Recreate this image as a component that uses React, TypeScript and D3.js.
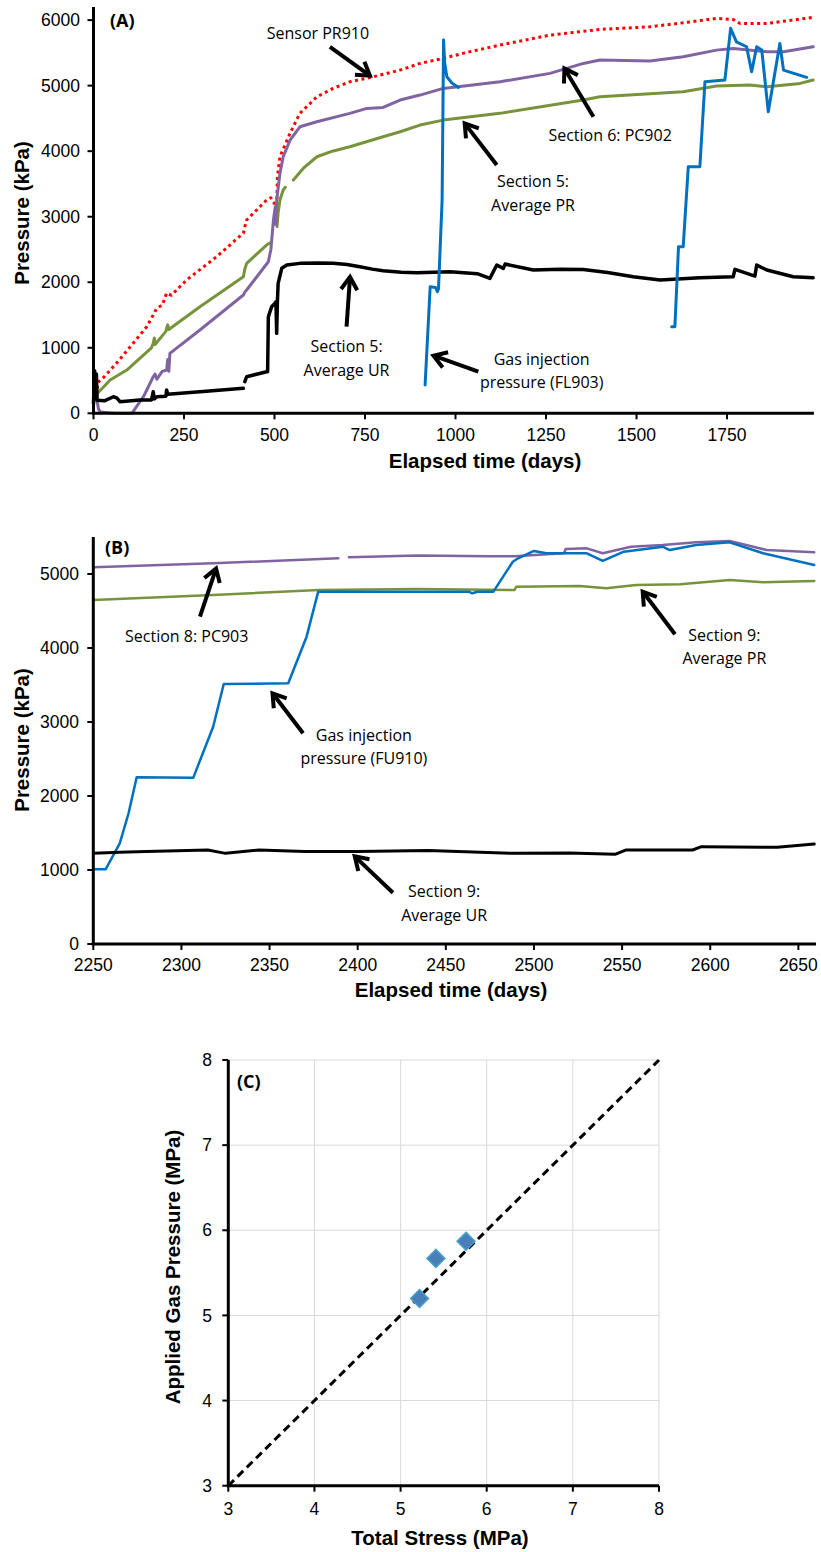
import React, { useEffect } from 'react';
import * as d3 from 'd3';

type Pt = [number, number] | null;

// ---------- Panel A data: [elapsed day, pressure kPa] ----------
const aPR910: Pt[] = [
  [0, 100], [4, 380], [8, 320], [14, 480], [30, 560], [64, 767], [110, 1072], [147, 1321], [165, 1500],
  [175, 1606], [190, 1650], [202, 1835], [215, 1800], [257, 2034], [340, 2389], [414, 2750], [418, 2847],
  [423, 2949], [478, 3254], [490, 3290], [500, 3200], [506, 3152], [508, 3600], [515, 3915], [543, 4274],
  [570, 4577], [617, 4830], [662, 4958], [708, 5059], [773, 5135], [847, 5237], [902, 5339], [966, 5416],
  [1031, 5507], [1123, 5619], [1261, 5771], [1399, 5858], [1537, 5898], [1629, 5959], [1721, 6026],
  [1767, 6010], [1786, 5949], [1860, 5949], [1952, 6015], [1988, 6041],
];
const aPC902: Pt[] = [
  [0, 150], [3, 320], [8, 250], [14, 60], [20, 20], [40, 10], [60, 0], [106, 0], [138, 253], [160, 500],
  [165, 558], [170, 600], [175, 520], [190, 640], [202, 660], [205, 820], [208, 640], [211, 915], [294, 1271],
  [414, 1805], [418, 1850], [423, 1881], [483, 2313], [490, 2500], [497, 2949], [502, 3150], [504, 2880],
  [506, 3254], [515, 3661], [524, 3915], [543, 4169], [570, 4372], [617, 4449], [708, 4577], [755, 4653],
  [800, 4668], [847, 4780], [902, 4856], [966, 4958], [1123, 5059], [1261, 5187], [1353, 5339], [1399, 5390],
  [1537, 5375], [1629, 5440], [1721, 5542], [1767, 5568], [1860, 5517], [1906, 5517], [1988, 5593],
];
const aSec5PR: Pt[] = [
  [0, 200], [2, 253], [46, 508], [92, 660], [160, 1000], [165, 1067], [168, 1150], [170, 1050], [200, 1250],
  [202, 1297], [205, 1350], [208, 1280], [294, 1626], [414, 2084], [418, 2200], [423, 2288], [478, 2567],
  [488, 2603], null, [505, 2900], [507, 2850], [510, 3055], [515, 3254], [524, 3407], [530, 3450], null,
  [552, 3559], [580, 3740], [617, 3915], [660, 4000], [708, 4067], [800, 4220], [847, 4296], [902, 4398],
  [966, 4474], [1123, 4577], [1353, 4780], [1399, 4830], [1629, 4906], [1721, 4993], [1813, 5008],
  [1860, 4982], [1952, 5034], [1988, 5085],
];
const aSec5UR: Pt[] = [
  [0, 150], [3, 650], [6, 300], [8, 600], [10, 200], [30, 190], [55, 253], [65, 230], [73, 177], [128, 203],
  [160, 203], [165, 330], [168, 220], [175, 253], [200, 260], [202, 355], [205, 290], [294, 330], [414, 381],
  null, [418, 482], [423, 558], [478, 635], [481, 635], [483, 1474], [492, 1626], [501, 1678], [504, 1700],
  [506, 1220], [508, 1700], [510, 1983], [520, 2212], [534, 2262], [570, 2288], [620, 2295], [662, 2290],
  [700, 2272], [736, 2237], [770, 2200], [800, 2176], [850, 2152], [893, 2145], [985, 2161], [1060, 2130],
  [1095, 2059], [1114, 2262], [1132, 2212], [1137, 2277], [1215, 2186], [1290, 2200], [1353, 2196],
  [1420, 2150], [1491, 2084], [1565, 2034], [1675, 2069], [1767, 2084], [1772, 2196], [1827, 2094],
  [1832, 2262], [1860, 2186], [1933, 2084], [1988, 2069],
];
const aFL903: Pt[] = [
  [916, 432], [930, 1931], [945, 1920], [950, 1856], [953, 1900], [963, 3254], [967, 5696], [970, 5350],
  [976, 5135], [990, 5040], [1008, 4973], null,
  [1597, 1321], [1606, 1321], [1616, 2542], [1629, 2542], [1643, 3762], [1675, 3762], [1689, 5059],
  [1744, 5085], [1760, 5874], [1776, 5669], [1804, 5593], [1818, 5211], [1832, 5593], [1846, 5542],
  [1864, 4601], [1896, 5644], [1906, 5237], [1970, 5126],
];
const aXTicks = [0, 250, 500, 750, 1000, 1250, 1500, 1750];
const aYTicks = [0, 1000, 2000, 3000, 4000, 5000, 6000];

// ---------- Panel B data ----------
const bPC903: Pt[] = [
  [2250, 5090], [2318, 5144], [2389, 5212], null, [2395, 5226], [2434, 5250], [2474, 5240], [2489, 5240],
  [2517, 5280], [2518, 5338], [2530, 5347], [2539, 5280], [2555, 5369], [2573, 5392], [2592, 5428],
  [2611, 5446], [2632, 5324], [2659, 5293],
];
const bSec9PR: Pt[] = [
  [2250, 4649], [2318, 4716], [2378, 4784], [2434, 4797], [2489, 4784], [2490, 4829], [2526, 4838],
  [2541, 4806], [2558, 4851], [2583, 4860], [2611, 4919], [2630, 4887], [2659, 4905],
];
const bFU910: Pt[] = [
  [2250, 1009], [2257, 1009], [2265, 1361], [2270, 1766], [2274.6, 2252], [2306.7, 2245], [2318, 2936],
  [2324, 3514], [2360.6, 3523], [2371, 4153], [2377.6, 4761], [2463, 4761], [2465, 4739], [2468, 4761],
  [2477, 4761], [2488, 5166], [2491, 5212], [2500, 5311], [2507, 5280], [2530, 5280], [2539, 5176],
  [2551, 5302], [2573, 5369], [2577, 5324], [2592, 5392], [2611, 5428], [2630, 5280], [2659, 5122],
];
const bSec9UR: Pt[] = [
  [2250, 1225], [2265, 1240], [2280, 1250], [2315, 1270], [2325, 1225], [2344, 1270], [2370, 1250],
  [2400, 1250], [2440, 1262], [2488, 1225], [2520, 1230], [2546, 1212], [2552, 1270], [2590, 1270],
  [2595, 1315], [2638, 1306], [2659, 1351],
];
const bXTicks = [2250, 2300, 2350, 2400, 2450, 2500, 2550, 2600, 2650];
const bYTicks = [0, 1000, 2000, 3000, 4000, 5000];

// ---------- Panel C data (MPa) ----------
const cTotalStress = [5.22, 5.41, 5.76];
const cGasPressure = [5.2, 5.67, 5.87];
const cTicks = [3, 4, 5, 6, 7, 8];

// ---------- Annotations: text lines, text anchor and arrow in data units ----------
type Ann = { lines: string[]; t: [number, number]; from: [number, number]; to: [number, number] };
const aNotes: Ann[] = [
  { lines: ['Sensor PR910'], t: [620, 5802], from: [653, 5593], to: [768, 5135] },
  { lines: ['Section 6: PC902'], t: [1427, 4244], from: [1381, 4525], to: [1298, 5288] },
  { lines: ['Section 5:', 'Average PR'], t: [1214, 3533], from: [1114, 3788], to: [1022, 4448] },
  { lines: ['Section 5:', 'Average UR'], t: [699, 1016], from: [699, 1321], to: [709, 2110] },
  { lines: ['Gas injection', 'pressure (FL903)'], t: [1238, 824], from: [1063, 635], to: [934, 889] },
];
const bNotes: Ann[] = [
  { lines: ['Section 8: PC903'], t: [2303, 4162], from: [2310.5, 4423], to: [2320, 5099] },
  { lines: ['Gas injection', 'pressure (FU910)'], t: [2403.5, 2824], from: [2369, 2847], to: [2351, 3409] },
  { lines: ['Section 9:', 'Average PR'], t: [2608, 4176], from: [2580, 4185], to: [2561, 4784] },
  { lines: ['Section 9:', 'Average UR'], t: [2449, 707], from: [2420, 693], to: [2397.5, 1203] },
];

const TICK_FONT = '"Liberation Sans", Arial, sans-serif';
const NOTE_FONT = '"Open Sans", "Noto Sans", sans-serif';

type Scale = d3.ScaleLinear<number, number>;

function Series({ data, x, y, color, width, dash }: { data: Pt[]; x: Scale; y: Scale; color: string; width: number; dash?: string }) {
  const line = d3
    .line<Pt>()
    .defined((d) => d !== null)
    .x((d) => x((d as [number, number])[0]))
    .y((d) => y((d as [number, number])[1]));
  return (
    <path
      d={line(data) || ''}
      fill="none"
      stroke={color}
      strokeWidth={width}
      strokeDasharray={dash}
      strokeLinejoin="round"
      strokeLinecap={dash ? 'butt' : 'round'}
    />
  );
}

function Arrow({ x1, y1, x2, y2 }: { x1: number; y1: number; x2: number; y2: number }) {
  const ang = Math.atan2(y2 - y1, x2 - x1);
  const L = 15;
  const a = Math.PI / 5.5;
  const tx = x2 - 2 * Math.cos(ang);
  const ty = y2 - 2 * Math.sin(ang);
  const h1 = [tx - L * Math.cos(ang - a), ty - L * Math.sin(ang - a)];
  const h2 = [tx - L * Math.cos(ang + a), ty - L * Math.sin(ang + a)];
  return (
    <g stroke="#000" fill="none" strokeWidth={4}>
      <line x1={x1} y1={y1} x2={tx} y2={ty} />
      <path d={`M${h1[0]},${h1[1]}L${tx},${ty}L${h2[0]},${h2[1]}`} strokeLinejoin="miter" />
    </g>
  );
}

function Notes({ notes, x, y }: { notes: Ann[]; x: Scale; y: Scale }) {
  return (
    <g>
      {notes.map((n, i) => (
        <g key={i}>
          <Arrow x1={x(n.from[0])} y1={y(n.from[1])} x2={x(n.to[0])} y2={y(n.to[1])} />
          {n.lines.map((l, j) => (
            <text
              key={j}
              x={x(n.t[0])}
              y={y(n.t[1]) + j * 23.5}
              dy="0.35em"
              textAnchor="middle"
              fontFamily={NOTE_FONT}
              fontSize={16}
              fill="#000"
            >
              {l}
            </text>
          ))}
        </g>
      ))}
    </g>
  );
}

function Axes({
  x, y, xTicks, yTicks, xLabelY, yLabelX, xTitle, xTitleX, xTitleY, yTitle, yTitleX, yTitleY, fmt,
}: {
  x: Scale; y: Scale; xTicks: number[]; yTicks: number[]; xLabelY: number; yLabelX: number;
  xTitle: string; xTitleX: number; xTitleY: number; yTitle: string; yTitleX: number; yTitleY: number;
  fmt: (v: number) => string;
}) {
  const [x0, x1] = x.range();
  const [y0, y1] = y.range();
  return (
    <g>
      <line x1={x0} x2={x0} y1={y0 + 1.5} y2={y1} stroke="#000" strokeWidth={3} />
      <line x1={x0 - 1.5} x2={x1} y1={y0} y2={y0} stroke="#000" strokeWidth={3} />
      {yTicks.map((t) => (
        <g key={'y' + t}>
          <line x1={x0 - 6} x2={x0} y1={y(t)} y2={y(t)} stroke="#000" strokeWidth={2} />
          <text x={yLabelX} y={y(t)} dy="0.35em" textAnchor="end" fontFamily={TICK_FONT} fontSize={17.5} fill="#000">
            {fmt(t)}
          </text>
        </g>
      ))}
      {xTicks.map((t) => (
        <g key={'x' + t}>
          <line x1={x(t)} x2={x(t)} y1={y0} y2={y0 + 6} stroke="#000" strokeWidth={2} />
          <text x={x(t)} y={xLabelY} textAnchor="middle" fontFamily={TICK_FONT} fontSize={17.5} fill="#000">
            {fmt(t)}
          </text>
        </g>
      ))}
      <text x={xTitleX} y={xTitleY} textAnchor="middle" fontFamily={TICK_FONT} fontWeight="bold" fontSize={20.5} fill="#000">
        {xTitle}
      </text>
      <text
        transform={`translate(${yTitleX},${yTitleY}) rotate(-90)`}
        textAnchor="middle"
        fontFamily={TICK_FONT}
        fontWeight="bold"
        fontSize={20.5}
        fill="#000"
      >
        {yTitle}
      </text>
    </g>
  );
}

export default function App() {
  useEffect(() => {
    document.body.style.margin = '0';
  }, []);

  const fmt = (v: number) => String(v);

  // Panel A scales
  const ax = d3.scaleLinear().domain([0, 1990]).range([93.5, 813.9]);
  const ay = d3.scaleLinear().domain([0, 6200]).range([413.3, 7]);
  // Panel B scales
  const bx = d3.scaleLinear().domain([2250, 2660]).range([93.3, 816]);
  const by = d3.scaleLinear().domain([0, 5500]).range([944, 537]);
  // Panel C scales
  const cx = d3.scaleLinear().domain([3, 8]).range([228.3, 659]);
  const cy = d3.scaleLinear().domain([3, 8]).range([1485.7, 1060]);

  const diamond = d3.symbol().type(d3.symbolSquare).size(160)() || '';
  const diag = d3.line()([[cx(3), cy(3)], [cx(8), cy(8)]]) || '';

  return (
    <svg width={821} height={1552} style={{ position: 'absolute', left: 0, top: 0, background: '#fff' }}>
      <rect width={821} height={1552} fill="#fff" />

      {/* Panel A */}
      <g>
        <Series data={aPR910} x={ax} y={ay} color="#FF0000" width={3} dash="3 3.5" />
        <Series data={aSec5PR} x={ax} y={ay} color="#77933C" width={3} />
        <Series data={aPC902} x={ax} y={ay} color="#8064A2" width={3} />
        <Series data={aSec5UR} x={ax} y={ay} color="#000000" width={3.5} />
        <Series data={aFL903} x={ax} y={ay} color="#0070C0" width={3} />
        <Axes
          x={ax} y={ay} xTicks={aXTicks} yTicks={aYTicks} xLabelY={441} yLabelX={80}
          xTitle="Elapsed time (days)" xTitleX={485} xTitleY={468}
          yTitle="Pressure (kPa)" yTitleX={29} yTitleY={213} fmt={fmt}
        />
        <Notes notes={aNotes} x={ax} y={ay} />
        <text x={110} y={27} fontFamily={NOTE_FONT} fontWeight="bold" fontSize={18} fill="#000">(A)</text>
      </g>

      {/* Panel B */}
      <g>
        <Series data={bPC903} x={bx} y={by} color="#8064A2" width={2.5} />
        <Series data={bSec9PR} x={bx} y={by} color="#77933C" width={2.5} />
        <Series data={bFU910} x={bx} y={by} color="#0070C0" width={2.5} />
        <Series data={bSec9UR} x={bx} y={by} color="#000000" width={3} />
        <Axes
          x={bx} y={by} xTicks={bXTicks} yTicks={bYTicks} xLabelY={971} yLabelX={79}
          xTitle="Elapsed time (days)" xTitleX={451} xTitleY={997}
          yTitle="Pressure (kPa)" yTitleX={29} yTitleY={740} fmt={fmt}
        />
        <Notes notes={bNotes} x={bx} y={by} />
        <text x={105} y={554} fontFamily={NOTE_FONT} fontWeight="bold" fontSize={18} fill="#000">(B)</text>
      </g>

      {/* Panel C */}
      <g>
        {cTicks.slice(1).map((t) => (
          <line key={'gx' + t} x1={cx(t)} x2={cx(t)} y1={cy(3)} y2={cy(8)} stroke="#D9D9D9" strokeWidth={1} />
        ))}
        {cTicks.slice(1).map((t) => (
          <line key={'gy' + t} x1={cx(3)} x2={cx(8)} y1={cy(t)} y2={cy(t)} stroke="#D9D9D9" strokeWidth={1} />
        ))}
        <path d={diag} stroke="#000" strokeWidth={3} strokeDasharray="8 5" fill="none" />
        {cTotalStress.map((s, i) => (
          <path
            key={'pt' + i}
            d={diamond}
            transform={`translate(${cx(s)},${cy(cGasPressure[i])}) rotate(45)`}
            fill="#4A7EBB"
            stroke="#45A0C6"
            strokeWidth={1.5}
          />
        ))}
        <Axes
          x={cx} y={cy} xTicks={cTicks} yTicks={cTicks} xLabelY={1515} yLabelX={212}
          xTitle="Total Stress (MPa)" xTitleX={440} xTitleY={1545}
          yTitle="Applied Gas Pressure (MPa)" yTitleX={180} yTitleY={1267} fmt={fmt}
        />
        <text x={237} y={1088} fontFamily={NOTE_FONT} fontWeight="bold" fontSize={18} fill="#000">(C)</text>
      </g>
    </svg>
  );
}
